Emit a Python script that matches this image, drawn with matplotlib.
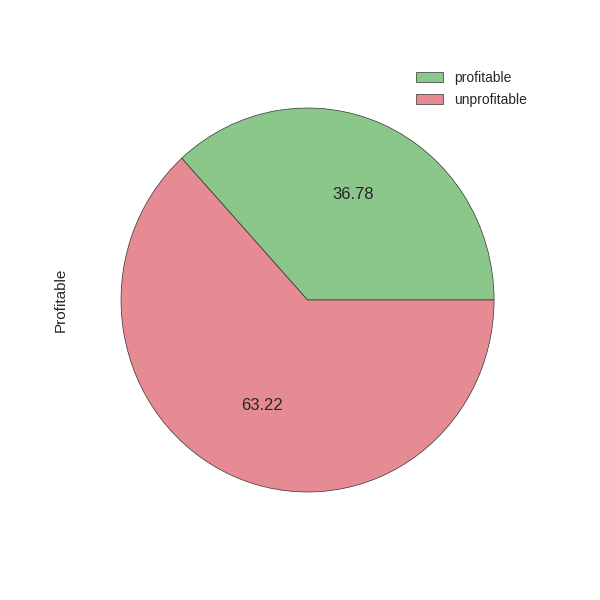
import matplotlib
matplotlib.use("Agg")
import matplotlib.pyplot as plt

labels = ["profitable", "unprofitable"]
shares = [36.78, 63.22]
colors = ["#8bc78a", "#e68a93"]

plt.rcParams['font.family'] = ['Liberation Sans', 'DejaVu Sans']
plt.rcParams['text.color'] = '#262626'
plt.rcParams['axes.labelcolor'] = '#262626'

fig = plt.figure(figsize=(6, 6), dpi=100)
# the pie in the original is a little taller than wide, so no equal aspect
ax = fig.add_axes([0.2017, 0.18, 0.6217, 0.64])

wedges, texts, autotexts = ax.pie(
    shares, colors=colors, autopct="%.2f", startangle=0,
    wedgeprops={"edgecolor": "#333333", "linewidth": 0.5},
    textprops={"fontsize": 12},
)
ax.set_xlim(-1, 1)
ax.set_ylim(-1, 1)
ax.set_aspect("auto")
ax.set_ylabel("Profitable", fontsize=11, labelpad=38)

# legend in the top right corner, no frame
leg = ax.legend(wedges, labels, loc="upper left", frameon=False,
                bbox_to_anchor=(0.672, 0.903), bbox_transform=fig.transFigure,
                fontsize=10, handlelength=2.0, handleheight=0.7,
                handletextpad=0.8, labelspacing=0.6)

fig.savefig("out.png", dpi=100)
